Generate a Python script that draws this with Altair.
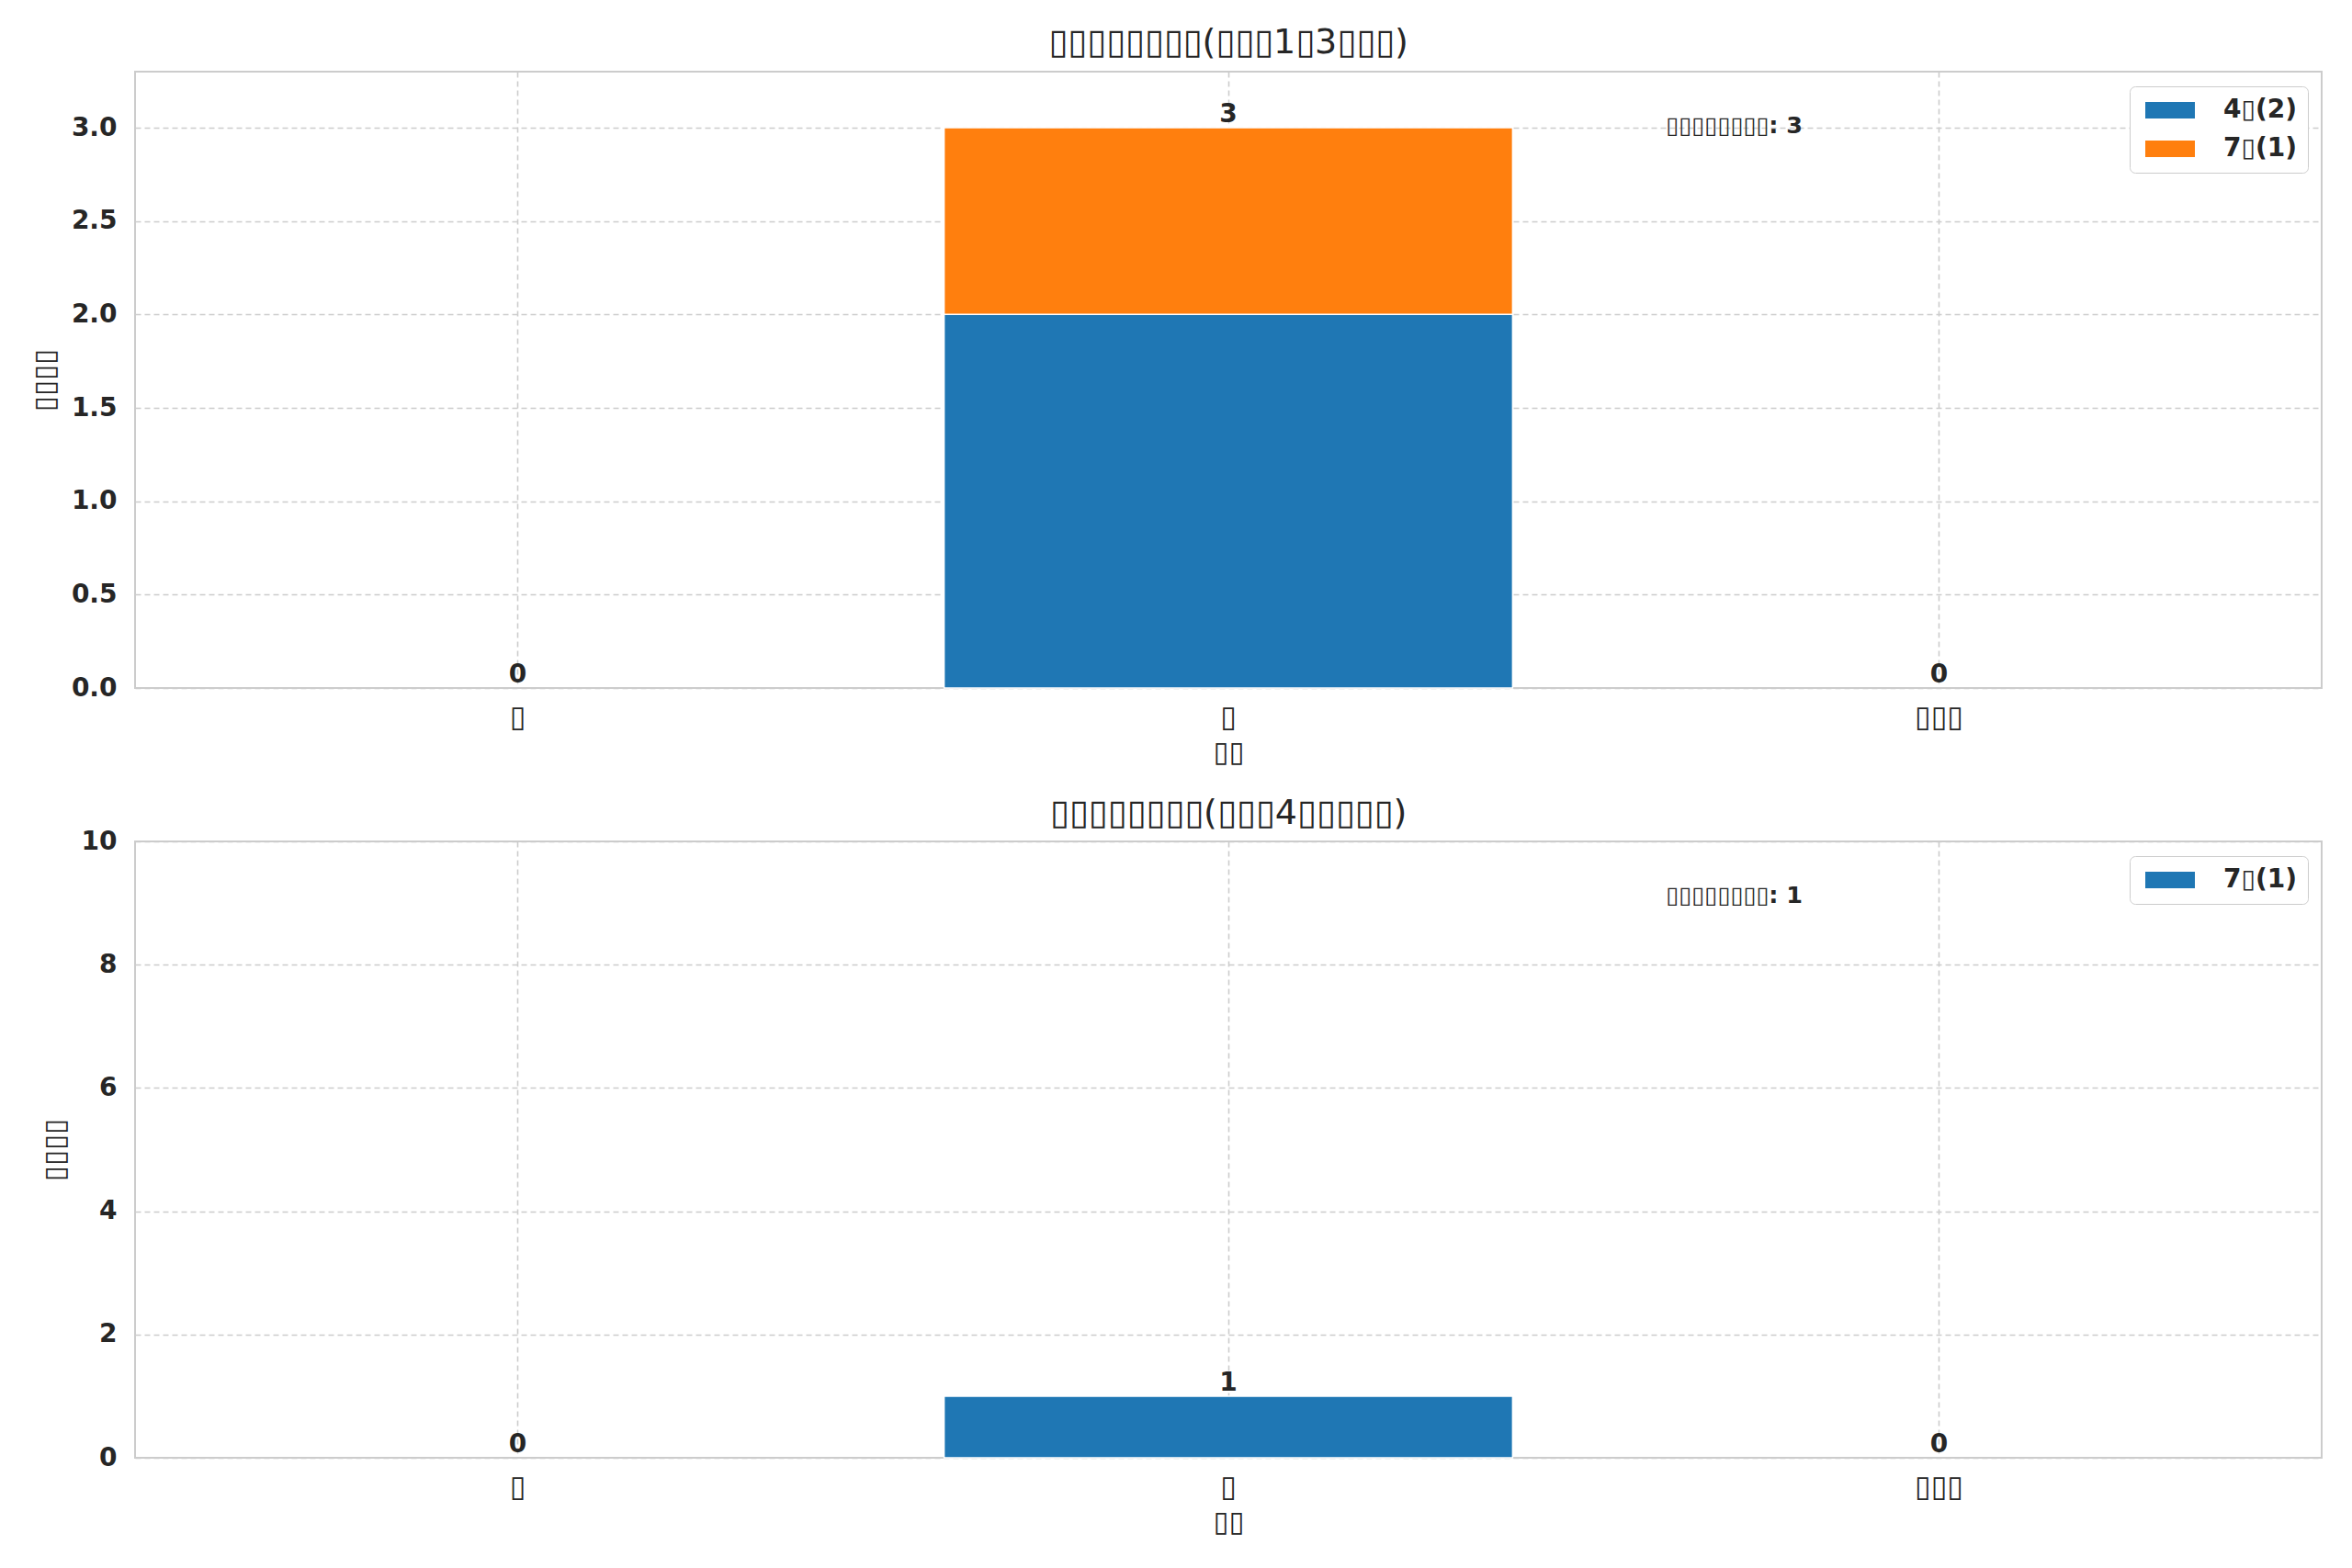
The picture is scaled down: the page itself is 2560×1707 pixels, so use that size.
import altair as alt
import pandas as pd

# ---- data ----
categories = ["▯", "▯", "▯▯▯"]
cat_index = [0, 1, 2]

x_title = "▯▯"
y_title = "▯▯▯▯"

top_title = "▯▯▯▯▯▯▯▯(▯▯▯1▯3▯▯▯)"
top_series = ["4▯(2)", "7▯(1)"]
top_values_a = [0, 2, 0]
top_values_b = [0, 1, 0]
top_colors = ["#1f77b4", "#ff7f0e"]
top_note = "▯▯▯▯▯▯▯▯: 3"
top_y_max = 3.3
top_y_ticks = [0.0, 0.5, 1.0, 1.5, 2.0, 2.5, 3.0]

bottom_title = "▯▯▯▯▯▯▯▯(▯▯▯4▯▯▯▯▯)"
bottom_series = ["7▯(1)"]
bottom_values_a = [0, 1, 0]
bottom_colors = ["#1f77b4"]
bottom_note = "▯▯▯▯▯▯▯▯: 1"
bottom_y_max = 10
bottom_y_ticks = [0, 2, 4, 6, 8, 10]

W = 2380
H = 671
FONT = "DejaVu Sans"
TXT = "#262626"


def panel(series, values, colors, title, note, ymax, yticks, yfmt, title_offset):
    rows = []
    for s_i, (s, vals) in enumerate(zip(series, values)):
        for c_i, v in zip(cat_index, vals):
            rows.append({"idx": c_i, "series": s, "ord": s_i, "value": v})
    df = pd.DataFrame(rows)
    label_expr = "[" + ",".join("'%s'" % c for c in categories) + "][datum.value]"
    x = alt.X(
        "idx:O",
        scale=alt.Scale(paddingInner=0.2, paddingOuter=0.1385),
        axis=alt.Axis(title=x_title, labelExpr=label_expr, labelAngle=0,
                      bandPosition=0.5),
    )
    yaxis = alt.Axis(title=y_title, values=yticks, format=yfmt)
    yscale = alt.Scale(domain=[0, ymax], nice=False, zero=True)
    bars = alt.Chart(df).transform_filter(
        "datum.value > 0"
    ).mark_bar(stroke="white", strokeWidth=1.5).encode(
        x=x,
        y=alt.Y("value:Q", stack="zero", scale=yscale, axis=yaxis),
        color=alt.Color(
            "series:N",
            scale=alt.Scale(domain=series, range=colors),
            legend=alt.Legend(
                title=None, orient="none", legendX=2171, legendY=16,
                fillColor="white", strokeColor="#cccccc", cornerRadius=6,
                padding=12, rowPadding=14, labelFontSize=28,
                labelFontWeight="bold", labelColor=TXT, labelFont=FONT,
                symbolType="M-3,-1H3V1H-3Z", symbolSize=324,
                symbolOffset=18, symbolStrokeWidth=0, symbolOpacity=1,
                labelOffset=44,
            ),
        ),
        order=alt.Order("ord:Q", sort="ascending"),
    )
    totals = alt.Chart(df).transform_aggregate(
        total="sum(value)", groupby=["idx"]
    ).mark_text(
        baseline="bottom", fontWeight="bold", fontSize=28, color=TXT, font=FONT
    ).encode(
        x=x,
        y=alt.Y("total:Q", scale=yscale, axis=yaxis),
        text=alt.Text("total:Q", format="d"),
    )
    note_df = pd.DataFrame({"note": [note]})
    note_layer = alt.Chart(note_df).mark_text(
        align="left", baseline="alphabetic", fontWeight="bold", fontSize=25.5,
        color=TXT, font=FONT,
    ).encode(
        x=alt.value(0.7 * W),
        y=alt.value(0.1 * H),
        text="note:N",
    )
    return alt.layer(bars, totals, note_layer).properties(
        width=W, height=H,
        title=alt.TitleParams(title, frame="group", offset=title_offset),
    )


top = panel(top_series, [top_values_a, top_values_b], top_colors, top_title,
            top_note, top_y_max, top_y_ticks, ".1f", 12)
bottom = panel(bottom_series, [bottom_values_a], bottom_colors, bottom_title,
               bottom_note, bottom_y_max, bottom_y_ticks, "d", -3)

chart = alt.vconcat(top, bottom, spacing=31).resolve_scale(
    color="independent", x="independent", y="independent"
).properties(
    padding={"left": 24, "top": 19, "right": 5, "bottom": 5},
    background="white",
).configure_view(
    stroke="#cccccc", strokeWidth=2
).configure_axis(
    grid=True, gridDash=[6, 4], gridColor="#cccccc", gridWidth=1.6,
    domain=False, ticks=False, tickSize=0,
    labelFont=FONT, labelFontSize=28, labelColor=TXT,
    titleFont=FONT, titleFontSize=31, titleFontWeight="normal", titleColor=TXT,
).configure_axisX(
    labelFontSize=32, labelPadding=16, titlePadding=8,
).configure_axisY(
    labelFontWeight="bold", labelPadding=20, titlePadding=12,
).configure_title(
    font=FONT, fontSize=38, fontWeight="normal", color=TXT,
)

chart.save("out.html", embed_options={"renderer": "svg", "actions": False})
